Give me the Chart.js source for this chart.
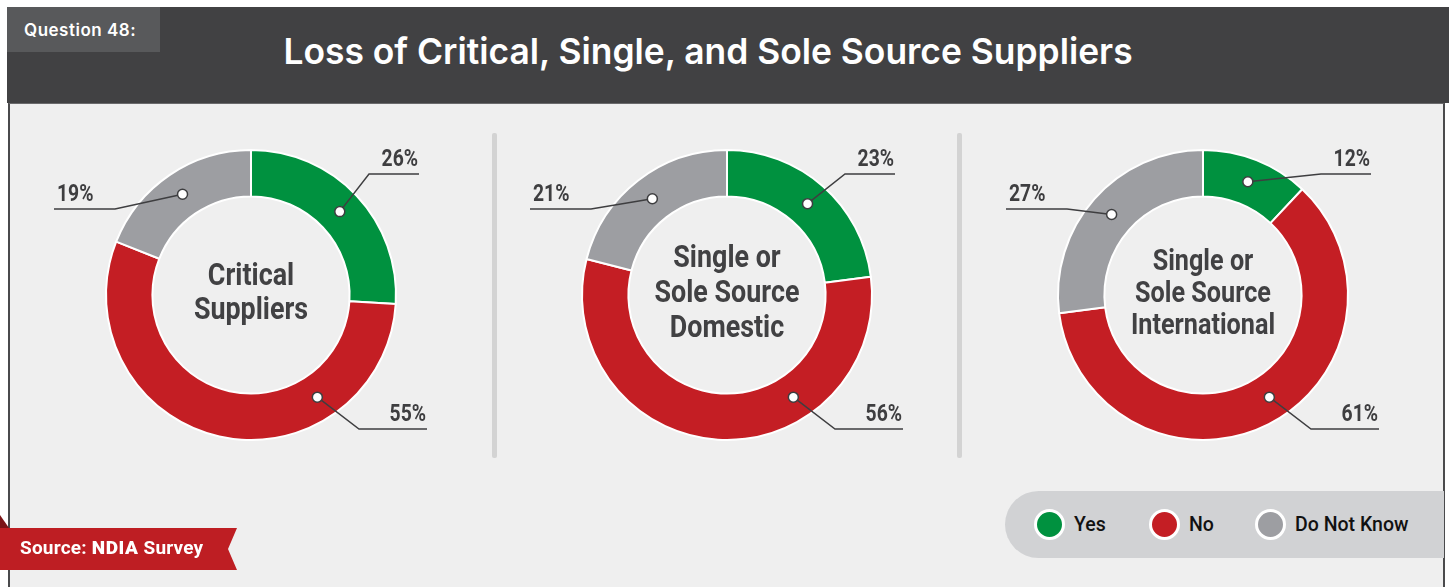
<!DOCTYPE html>
<html>
<head>
<meta charset="utf-8">
<script src="https://cdn.jsdelivr.net/npm/chart.js@4.4.1/dist/chart.umd.min.js"></script>
<style>
  html, body { margin: 0; padding: 0; background: #fff; }
  #page { position: relative; width: 1449px; height: 587px; overflow: hidden; font-family: Roboto, 'Liberation Sans', sans-serif; }
  .header { position: absolute; left: 7px; top: 7px; width: 1442px; height: 96px; background: #414143; }
  .qtab { position: absolute; left: 7px; top: 7px; width: 153px; height: 45px; background: #58595b;
          color: #fff; font: 600 17px Inter, 'Open Sans', sans-serif; letter-spacing: 0.5px; line-height: 46px; padding-left: 17px; box-sizing: border-box; }
  #title { position: absolute; left: 0; width: 1416px; top: 30px; text-align: center; color: #fff;
           font: 600 32px Inter, 'Open Sans', sans-serif; white-space: nowrap; }
  #title span { display: inline-block; }
  .panel { position: absolute; left: 8px; top: 103px; width: 1437px; height: 484px; background: #efefef;
           border-left: 2px solid #4a4a4c; border-right: 2px solid #4a4a4c; border-top: 1px solid #6a6a6c; box-sizing: border-box; }
  .sep { position: absolute; top: 133px; width: 5px; height: 325px; background: #d3d3d3; border-radius: 2px; }
  canvas { position: absolute; top: 125px; }
  #legend { position: absolute; left: 1005px; top: 491px; width: 439px; height: 67px; background: #d1d2d4;
            border-radius: 34px 0 0 34px; }
  .item { position: absolute; top: 0; height: 67px; display: flex; align-items: center; font: 500 19.5px Roboto, sans-serif; color: #111; }
  .dot { width: 25px; height: 25px; border-radius: 50%; border: 3px solid #fff; margin-right: 9px; }
  .source { position: absolute; left: 20px; top: 536px; color: #fff; font: 700 19px Roboto, sans-serif; letter-spacing: 0.2px; }
  .source b { font-weight: 900; letter-spacing: 0.6px; }
</style>
</head>
<body>
<div id="page">
  <div class="header"></div>
  <div class="qtab">Question 48:</div>
  <div id="title"><span>Loss of Critical, Single, and Sole Source Suppliers</span></div>
  <div class="panel"></div>
  <div class="sep" style="left:492px"></div>
  <div class="sep" style="left:957px"></div>
  <canvas id="chart0" width="460" height="340" style="left:21px"></canvas>
  <canvas id="chart1" width="460" height="340" style="left:497px"></canvas>
  <canvas id="chart2" width="460" height="340" style="left:973px"></canvas>
  <div id="legend"></div>
  <svg width="240" height="587" style="position:absolute;left:0;top:0">
    <polygon points="0,515 9,528 0,528" fill="#7b1417"/>
    <polygon points="0,528 237,528 228,549 237,570 0,570" fill="#be1e23"/>
  </svg>
  <div class="source">Source: <b>NDIA</b> Survey</div>
</div>
<script>
const categories = ['Yes', 'No', 'Do Not Know'];
const sliceColors = ['#00913f', '#c41e24', '#9d9ea2'];

const criticalSuppliers = [26, 55, 19];
const soleSourceDomestic = [23, 56, 21];
const soleSourceInternational = [12, 61, 27];

const centerTitles = [
  ['Critical', 'Suppliers'],
  ['Single or', 'Sole Source', 'Domestic'],
  ['Single or', 'Sole Source', 'International']
];

const ink = '#3e3e40';
const NARROW = 0.84; // squeeze Roboto Bold into a condensed look

// where each category's leader line goes, relative to the doughnut centre
const leaders = [
  { elbowX: 118, elbowY: -121, endX: 168 },
  { elbowX: 108, elbowY: 134, endX: 176, maxAngle: 57 },
  { elbowX: -136, elbowY: -86, endX: -197 }
];

function narrowText(ctx, text, x, y, size, align) {
  ctx.save();
  ctx.translate(x, y);
  ctx.scale(NARROW, 1);
  ctx.font = 'bold ' + size + 'px Roboto, sans-serif';
  ctx.textAlign = align;
  ctx.fillText(text, 0, 0);
  ctx.restore();
}

const callouts = {
  id: 'callouts',
  afterDatasetsDraw(chart) {
    const ctx = chart.ctx;
    const meta = chart.getDatasetMeta(0);
    const values = chart.data.datasets[0].data;
    ctx.save();
    meta.data.forEach((arc, i) => {
      const p = arc.getProps(['x', 'y', 'startAngle', 'endAngle', 'innerRadius', 'outerRadius'], true);
      let a = (p.startAngle + p.endAngle) / 2;
      const L = leaders[i];
      if (L.maxAngle !== undefined) a = Math.min(a, L.maxAngle * Math.PI / 180);
      const r = (p.innerRadius + p.outerRadius) / 2;
      const dx = p.x + Math.cos(a) * r;
      const dy = p.y + Math.sin(a) * r;
      const ex = p.x + L.elbowX, ey = p.y + L.elbowY;
      const endX = p.x + L.endX;

      ctx.strokeStyle = ink;
      ctx.lineWidth = 1.5;
      ctx.beginPath();
      ctx.moveTo(dx, dy);
      ctx.lineTo(ex, ey);
      ctx.lineTo(endX, ey);
      ctx.stroke();

      ctx.beginPath();
      ctx.arc(dx, dy, 5, 0, Math.PI * 2);
      ctx.fillStyle = '#fff';
      ctx.fill();
      ctx.stroke();

      ctx.fillStyle = ink;
      ctx.textBaseline = 'alphabetic';
      if (L.endX < 0) {
        narrowText(ctx, values[i] + '%', endX + 3, ey - 8, 23, 'left');
      } else {
        narrowText(ctx, values[i] + '%', endX - 1, ey - 8, 23, 'right');
      }
    });
    ctx.restore();
  }
};

const centerText = {
  id: 'centerText',
  afterDraw(chart, args, opts) {
    const ctx = chart.ctx;
    const arc = chart.getDatasetMeta(0).data[0];
    const n = opts.lines.length;
    ctx.save();
    ctx.fillStyle = '#414143';
    ctx.textBaseline = 'middle';
    opts.lines.forEach((line, i) => {
      narrowText(ctx, line, arc.x, arc.y - 1 + (i - (n - 1) / 2) * opts.lineHeight, opts.size, 'center');
    });
    ctx.restore();
  }
};

function makeDoughnut(id, values, lines, size, lineHeight) {
  return new Chart(document.getElementById(id), {
    type: 'doughnut',
    data: {
      labels: categories,
      datasets: [{
        data: values,
        backgroundColor: sliceColors,
        borderColor: '#ffffff',
        borderWidth: 2
      }]
    },
    options: {
      responsive: false,
      animation: false,
      cutout: '68%',
      layout: { padding: { top: 24, bottom: 24 } },
      plugins: {
        legend: { display: false },
        tooltip: { enabled: false },
        centerText: { lines, size, lineHeight }
      }
    },
    plugins: [callouts, centerText]
  });
}

makeDoughnut('chart0', criticalSuppliers, centerTitles[0], 32, 34);
makeDoughnut('chart1', soleSourceDomestic, centerTitles[1], 32, 35);
makeDoughnut('chart2', soleSourceInternational, centerTitles[2], 30, 32);

// shared legend
const legendX = [29, 144, 250];
document.getElementById('legend').innerHTML = categories.map((c, i) =>
  `<div class="item" style="left:${legendX[i]}px"><div class="dot" style="background:${sliceColors[i]}"></div>${c}</div>`
).join('');

// fit the heading to its band
const title = document.querySelector('#title span');
title.style.fontSize = (32 * 850 / title.offsetWidth).toFixed(1) + 'px';
</script>
</body>
</html>
